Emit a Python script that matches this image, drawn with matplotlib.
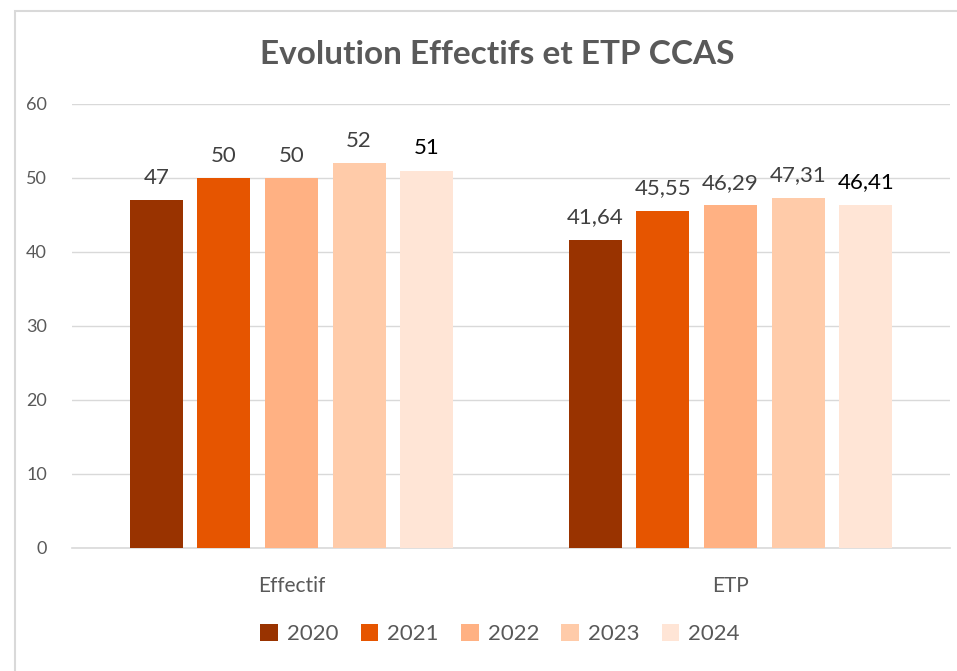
import matplotlib
matplotlib.use("Agg")
import matplotlib.pyplot as plt
import numpy as np
from matplotlib.patches import Rectangle

categories = ["Effectif", "ETP"]
years = ["2020", "2021", "2022", "2023", "2024"]
values = {
    "2020": [47, 41.64],
    "2021": [50, 45.55],
    "2022": [50, 46.29],
    "2023": [52, 47.31],
    "2024": [51, 46.41],
}
colors = ["#993300", "#E65500", "#FFB183", "#FFCBA9", "#FFE5D6"]
label_colors = ["#404040", "#404040", "#404040", "#404040", "#000000"]

plt.rcParams['font.family'] = ['Lato', 'DejaVu Sans']

fig = plt.figure(figsize=(9.57, 6.71), dpi=100)
# chart border
fig.patches.append(Rectangle((15/957, -0.01), 1.0, 1 - 11/671 + 0.01, transform=fig.transFigure,
                             fill=False, edgecolor="#D9D9D9", linewidth=1.5))

ax = fig.add_axes([72/957, 1 - 548/671, (950 - 72)/957, (548 - 104)/671])

x = np.arange(len(categories))
bw = 0.121
step = 0.154
for i, y in enumerate(years):
    pos = x + (i - 2) * step
    ax.bar(pos, values[y], width=bw, color=colors[i], label=y, zorder=3)
    for xp, v in zip(pos, values[y]):
        if float(v).is_integer():
            txt = f"{int(v)}"
        else:
            txt = f"{v:.2f}".replace(".", ",")
        ax.annotate(txt, (xp, v), xytext=(0, 9), textcoords="offset points",
                    ha="center", va="bottom", fontsize=16, color=label_colors[i])

ax.set_xlim(-0.5, 1.5)
ax.set_ylim(0, 60)
ax.set_yticks(range(0, 61, 10))
ax.yaxis.grid(True, color="#D9D9D9", linewidth=1, zorder=0)
ax.set_axisbelow(True)
for s in ["top", "right", "left"]:
    ax.spines[s].set_visible(False)
ax.spines["bottom"].set_color("#D9D9D9")
ax.spines["bottom"].set_linewidth(1.2)
ax.tick_params(axis="both", length=0, colors="#595959", labelsize=13)
ax.tick_params(axis="y", pad=18)
ax.tick_params(axis="x", pad=20, labelsize=15)
ax.set_xticks(x)
ax.set_xticklabels(categories)

fig.text(497/957, 1 - 55/671, "Evolution Effectifs et ETP CCAS", ha="center", va="center",
         fontsize=24, fontweight="bold", color="#595959")

leg = fig.legend(loc="center", bbox_to_anchor=(500/957, 1 - 634/671), ncol=5, frameon=False,
                 fontsize=16, handlelength=0.8, handleheight=0.8, handletextpad=0.4,
                 columnspacing=1.0)
for t in leg.get_texts():
    t.set_color("#595959")

fig.savefig("out.png", dpi=100)
